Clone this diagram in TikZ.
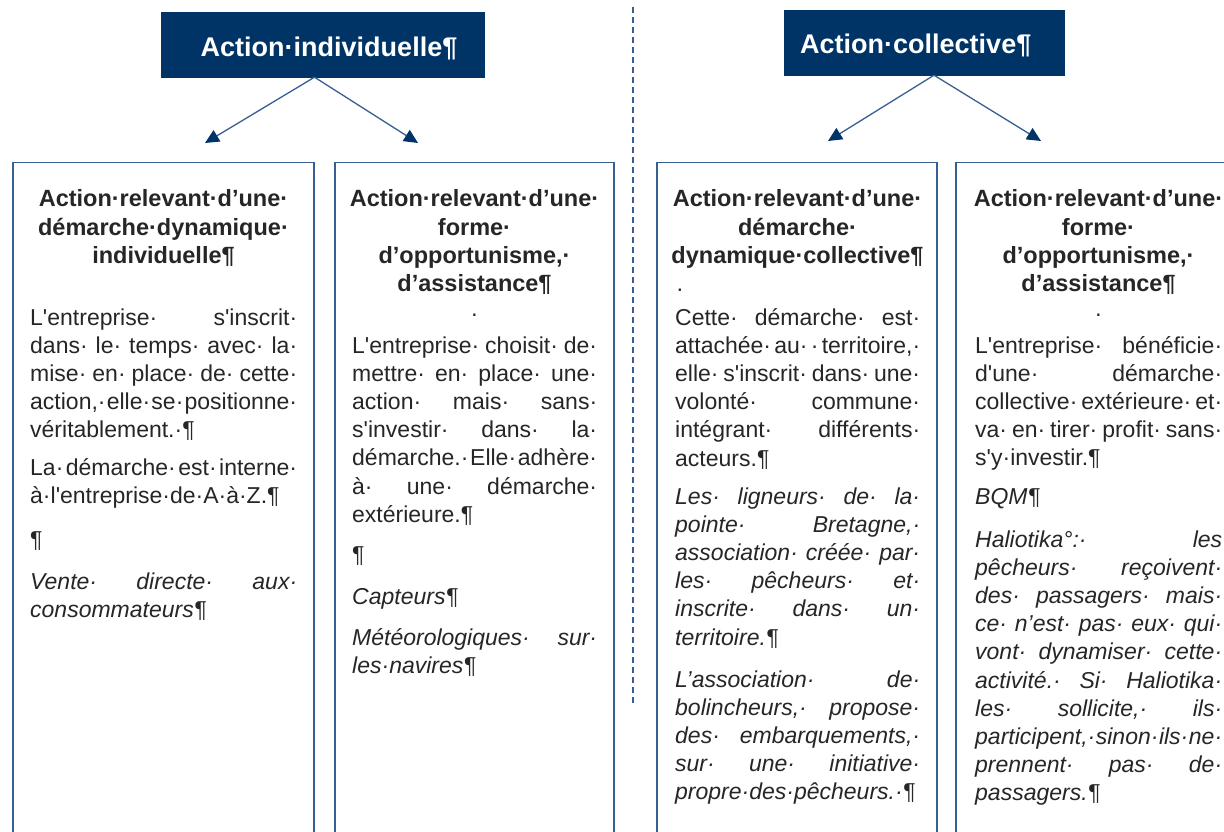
\documentclass[tikz,border=0pt]{standalone}
\usepackage{fontspec}
\setmainfont{Liberation Sans}[Ligatures=TeXOff]
\usetikzlibrary{arrows.meta}
\definecolor{navy}{RGB}{0,51,102}
\definecolor{frameblue}{RGB}{54,96,146}
\definecolor{ink}{RGB}{38,38,38}
\newcommand{\js}{·\nobreak\hfill\nobreak}

\begin{document}
\begin{tikzpicture}[x=1pt, y=-1pt,
    titlebox/.style={fill=navy, draw=navy, inner sep=0pt},
    titletext/.style={anchor=base, text=white, inner sep=0pt, font=\fontsize{27}{32}\selectfont\bfseries},
    frame/.style={draw=frameblue, line width=1.5pt, anchor=north west, minimum height=700pt, inner sep=0pt},
    head/.style={anchor=base, text width=280pt, align=center, inner sep=0pt, text=ink, font=\fontsize{23.5}{28.2}\selectfont\bfseries},
    body/.style={anchor=base west, align=left, inner sep=0pt, text=ink, font=\fontsize{23}{28.2}\selectfont},
    note/.style={body, font=\fontsize{23}{28.2}\selectfont\itshape},
    link/.style={-{Triangle[length=14pt, width=13pt, color=navy]}, draw=frameblue, line width=1.3pt}]
    \useasboundingbox (0,0) rectangle (1224,832);
    \clip (0,0) rectangle (1224,832);
    \fill[white] (0,0) rectangle (1224,832);

    % Title boxes
    \node[titlebox, minimum width=323pt, minimum height=65pt] (indiv) at (322.5,44.5) {};
    \node[titletext] (indivtxt) at (329,57) {Action·individuelle¶};
    \node[titlebox, minimum width=280pt, minimum height=65pt] (coll) at (924,42.5) {};
    \node[titletext, anchor=base west] (colltxt) at (800,54) {Action·collective¶};

    % Arrows
    \coordinate (indivL) at (205,143);
    \coordinate (indivR) at (418,143);
    \coordinate (collL) at (828,141);
    \coordinate (collR) at (1041,141);
    \draw[link] ([xshift=-8pt]indiv.south) -- (indivL);
    \draw[link] ([xshift=-8pt]indiv.south) -- (indivR);
    \draw[link] ([xshift=10pt]coll.south) -- (collL);
    \draw[link] ([xshift=10pt]coll.south) -- (collR);

    % Separator
    \draw[frameblue, line width=1.3pt, dash pattern=on 6pt off 4pt] (633,7) -- (633,705);

    % Frames
    \node[frame, minimum width=301pt] (dynind) at (12,162) {};
    \node[frame, minimum width=279pt] (oppind) at (334,162) {};
    \node[frame, minimum width=280pt] (dyncoll) at (656,162) {};
    \node[frame, minimum width=282pt] (oppcoll) at (955,162) {};

    % Individual, dynamic
    \node[head] (dynindhead) at (163.5,207) {Action·relevant·d’une·\\démarche·dynamique·\\individuelle¶};
    \node[body, text width=267pt] (dynindp1) at (30,325) {L'entreprise\js s'inscrit·\\dans\js le\js temps\js avec\js la·\\mise\js en\js place\js de\js cette·\\action,\js elle\js se\js positionne·\\véritablement.·¶};
    \node[body, text width=267pt] (dynindp2) at (30,475) {La\js démarche\js est\js interne·\\à·l'entreprise·de·A·à·Z.¶};
    \node[body] (dynindp3) at (30,547) {¶};
    \node[note, text width=267pt] (dynindp4) at (30,589) {Vente\js directe\js aux·\\consommateurs¶};

    % Individual, opportunism
    \node[head] (oppindhead) at (474.5,207) {Action·relevant·d’une·\\forme·\\d’opportunisme,·\\d’assistance¶};
    \node[body, anchor=base] (oppinddot) at (474.5,321) {·};
    \node[body, text width=245pt] (oppindp1) at (352,353) {L'entreprise\js choisit\js de·\\mettre\js en\js place\js une·\\action\js mais\js sans·\\s'investir\js dans\js la·\\démarche.\js Elle\js adhère·\\à\js une\js démarche·\\extérieure.¶};
    \node[body] (oppindp2) at (352,562) {¶};
    \node[note] (oppindp3) at (352,604) {Capteurs¶};
    \node[note, text width=245pt] (oppindp4) at (352,645) {Météorologiques\js sur·\\les·navires¶};

    % Collective, dynamic
    \node[head] (dyncollhead) at (797.5,207) {Action·relevant·d’une·\\démarche·\\dynamique·collective¶};
    \node[body] (dyncolldot) at (676,296) {·};
    \node[body, text width=245pt] (dyncollp1) at (675,325) {Cette\js démarche\js est·\\attachée\js au\js\js territoire,·\\elle\js s'inscrit\js dans\js une·\\volonté\js commune·\\intégrant\js différents·\\acteurs.¶};
    \node[note, text width=245pt] (dyncollp2) at (675,504) {Les\js ligneurs\js de\js la·\\pointe\js Bretagne,·\\association\js créée\js par·\\les\js pêcheurs\js et·\\inscrite\js dans\js un·\\territoire.¶};
    \node[note, text width=245pt] (dyncollp3) at (675,687) {L’association\js de·\\bolincheurs,\js propose·\\des\js embarquements,·\\sur\js une\js initiative·\\propre·des·pêcheurs.·¶};

    % Collective, opportunism
    \node[head] (oppcollhead) at (1098.5,207) {Action·relevant·d’une·\\forme·\\d’opportunisme,·\\d’assistance¶};
    \node[body, anchor=base] (oppcolldot) at (1098.5,321) {·};
    \node[body, text width=247pt] (oppcollp1) at (975,353) {L'entreprise\js bénéficie·\\d'une\js démarche·\\collective\js extérieure\js et·\\va\js en\js tirer\js profit\js sans·\\s'y·investir.¶};
    \node[note] (oppcollp2) at (975,504) {BQM¶};
    \node[note, text width=247pt] (oppcollp3) at (975,547) {Haliotika°:\js les\\pêcheurs\js reçoivent·\\des\js passagers\js mais·\\ce\js n’est\js pas\js eux\js qui·\\vont\js dynamiser\js cette·\\activité.\js Si\js Haliotika·\\les\js sollicite,\js ils·\\participent,\js sinon\js ils\js ne·\\prennent\js pas\js de·\\passagers.¶};
\end{tikzpicture}
\end{document}
